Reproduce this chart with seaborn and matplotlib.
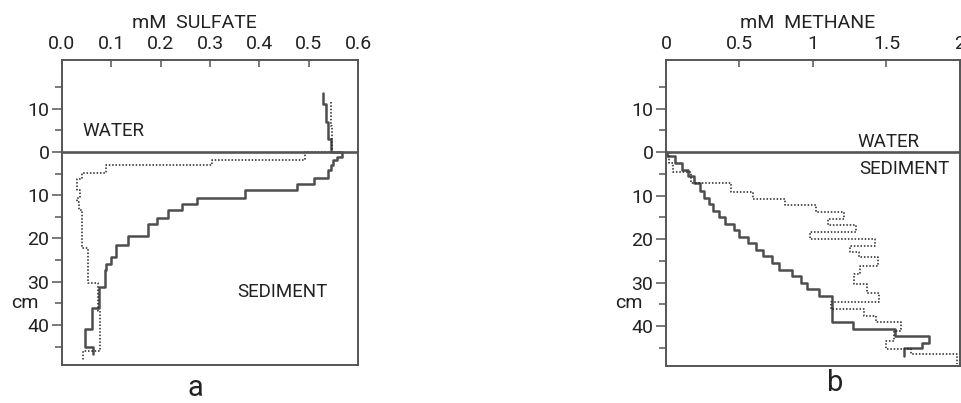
import numpy as np
import pandas as pd
import matplotlib
matplotlib.use("Agg")
import matplotlib.pyplot as plt
import seaborn as sns
from matplotlib.ticker import FixedLocator

# ---------------- data ----------------
# Panel a: sulfate (mM) step profiles; depth edges in cm (negative = water column)
sulf_solid_edges = [-13.6, -11.0, -7.0, -3.0, 0.0, 1.1, 1.8, 3.0, 4.2, 6.1, 7.5, 8.9,
                    10.7, 12.0, 13.4, 15.3, 16.7, 19.4, 21.4, 24.2, 26.0, 27.2, 31.2,
                    36.1, 40.8, 45.1, 46.6]
sulf_solid_conc = [0.530, 0.535, 0.540, 0.545, 0.567, 0.557, 0.550, 0.545, 0.540, 0.510,
                   0.476, 0.371, 0.273, 0.243, 0.215, 0.192, 0.175, 0.134, 0.110, 0.100,
                   0.089, 0.087, 0.074, 0.060, 0.047, 0.063]

sulf_dot_edges = [-11.5, -6.0, 0.0, 1.8, 3.0, 4.8, 6.3, 8.8, 10.7, 11.5, 13.4, 22.2,
                  30.2, 36.7, 46.0, 48.3]
sulf_dot_conc = [0.545, 0.548, 0.493, 0.304, 0.089, 0.040, 0.031, 0.036, 0.031, 0.035,
                 0.040, 0.053, 0.073, 0.077, 0.043]

# Panel b: methane (mM)
meth_solid_edges = [0.0, 1.0, 2.5, 4.0, 5.5, 7.0, 9.0, 10.5, 12.0, 13.5, 15.0, 16.5,
                    18.0, 19.5, 21.0, 22.5, 24.0, 25.5, 27.0, 28.5, 30.0, 31.5, 33.0,
                    39.0, 40.7, 42.3, 43.8, 45.0, 47.0]
meth_solid_conc = [0.01, 0.06, 0.11, 0.15, 0.19, 0.23, 0.26, 0.29, 0.32, 0.36, 0.40,
                   0.46, 0.50, 0.56, 0.61, 0.66, 0.72, 0.77, 0.86, 0.92, 0.96, 1.04,
                   1.13, 1.27, 1.56, 1.79, 1.74, 1.62]

meth_dot_edges = [0.0, 2.6, 4.5, 7.2, 9.2, 10.7, 12.2, 13.8, 15.3, 16.8, 18.4, 19.9,
                  21.5, 23.0, 24.2, 26.1, 28.0, 30.3, 32.5, 34.5, 36.0, 37.6, 39.1,
                  41.1, 43.5, 45.3, 46.5, 48.7]
meth_dot_conc = [0.02, 0.05, 0.17, 0.445, 0.59, 0.81, 1.02, 1.21, 1.10, 1.29, 0.98,
                 1.42, 1.25, 1.31, 1.44, 1.32, 1.28, 1.37, 1.45, 1.12, 1.35, 1.43,
                 1.60, 1.55, 1.50, 1.67, 1.98]

sulf_ticks = [0.0, 0.1, 0.2, 0.3, 0.4, 0.5, 0.6]
sulf_ticklabels = ["0.0", "0.1", "0.2", "0.3", "0.4", "0.5", "0.6"]
meth_ticks = [0, 0.5, 1, 1.5, 2]
meth_ticklabels = ["0", "0.5", "1", "1.5", "2"]
depth_ticks = [-10, 0, 10, 20, 30, 40]
depth_ticklabels = ["10", "0", "10", "20", "30", "40"]
depth_minor = [-15, -5, 5, 15, 25, 35, 45]

# ---------------- style ----------------
sns.set_theme(style="ticks")
plt.rcParams["font.family"] = ["Roboto", "DejaVu Sans"]

LINE = "#4d4d4d"
AX = "#555555"
FS = 14


def step_frame(edges, conc):
    edges = np.asarray(edges, float)
    conc = np.asarray(conc, float)
    d = np.repeat(edges, 2)[1:-1]
    c = np.repeat(conc, 2)
    return pd.DataFrame({"conc": c, "depth": d})


fig = plt.figure(figsize=(9.62, 4.03), dpi=100)
axa = fig.add_axes([62 / 962, 1 - 365 / 403, 296 / 962, 305 / 403])
axb = fig.add_axes([666 / 962, 1 - 366 / 403, 294 / 962, 306 / 403])


def style_axes(ax, xticks, xlabels, xmax, title, title_x):
    ax.set_xlim(0, xmax)
    ax.set_ylim(49.2, -21.2)
    ax.xaxis.set_ticks_position("top")
    ax.xaxis.set_label_position("top")
    ax.set_xticks(xticks)
    ax.set_xticklabels(xlabels)
    ax.set_yticks(depth_ticks)
    ax.set_yticklabels(depth_ticklabels)
    ax.yaxis.set_minor_locator(FixedLocator(depth_minor))
    ax.tick_params(axis="x", direction="in", length=5, width=1.1, color=AX,
                   labelsize=FS, pad=5, labelcolor="#222")
    ax.tick_params(axis="y", which="major", direction="out", length=7, width=1.1,
                   color=AX, labelsize=FS, pad=2, labelcolor="#222")
    ax.tick_params(axis="y", which="minor", direction="out", length=5, width=1.1,
                   color=AX, left=True)
    for s in ax.spines.values():
        s.set_visible(True)
        s.set_color(AX)
        s.set_linewidth(1.4)
    ax.set_xlabel(title, fontsize=FS, color="#222", labelpad=4)
    ax.xaxis.set_label_coords(title_x, 1.105)
    ax.set_ylabel("")
    ax.text(-0.125, 34.8, "cm", transform=ax.get_yaxis_transform(), fontsize=FS,
            color="#222", ha="center", va="center")
    ax.axhline(0, color=AX, lw=1.9, zorder=3)
    ax.set_facecolor("white")


# Panel a
sns.lineplot(data=step_frame(sulf_solid_edges, sulf_solid_conc), x="conc", y="depth",
             sort=False, estimator=None, ax=axa, color=LINE, lw=1.8)
sns.lineplot(data=step_frame(sulf_dot_edges, sulf_dot_conc), x="conc", y="depth",
             sort=False, estimator=None, ax=axa, color="#222", lw=1.1,
             linestyle=(0, (1, 1.2)))
style_axes(axa, sulf_ticks, sulf_ticklabels, 0.6, "mM  SULFATE", 0.446)
axa.text(0.0405, -4.9, "WATER", fontsize=13.5, color="#222", ha="left", va="center")
axa.text(0.355, 32.3, "SEDIMENT", fontsize=13.5, color="#222", ha="left", va="center")

# Panel b
sns.lineplot(data=step_frame(meth_solid_edges, meth_solid_conc), x="conc", y="depth",
             sort=False, estimator=None, ax=axb, color=LINE, lw=1.8)
sns.lineplot(data=step_frame(meth_dot_edges, meth_dot_conc), x="conc", y="depth",
             sort=False, estimator=None, ax=axb, color="#222", lw=1.1,
             linestyle=(0, (1, 1.2)))
style_axes(axb, meth_ticks, meth_ticklabels, 2.0, "mM  METHANE", 0.48)
axb.text(1.30, -2.4, "WATER", fontsize=13.5, color="#222", ha="left", va="center")
axb.text(1.315, 3.9, "SEDIMENT", fontsize=13.5, color="#222", ha="left", va="center")

fig.text(195 / 962, 1 - 388 / 403, "a", fontsize=21, color="#222", ha="center", va="center")
fig.text(835 / 962, 1 - 383 / 403, "b", fontsize=21, color="#222", ha="center", va="center")

fig.savefig("out.png", dpi=100, facecolor="white")
